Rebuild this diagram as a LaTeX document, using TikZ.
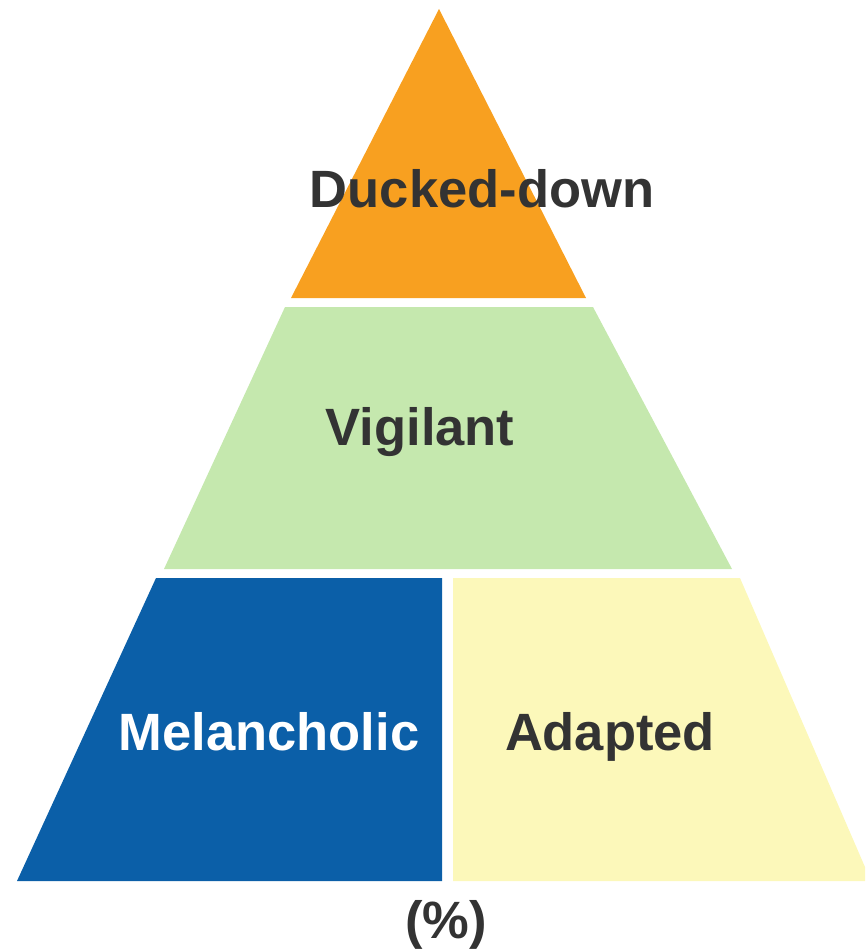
\documentclass[tikz,border=0pt]{standalone}
\usepackage{fontspec}
\setmainfont{Liberation Sans}
\usepackage{xcolor}
\usepackage{tikz}
\usetikzlibrary{positioning}
\definecolor{topcol}{HTML}{F8A020}
\definecolor{midcol}{HTML}{C5E8AE}
\definecolor{melcol}{HTML}{0B5FA8}
\definecolor{adpcol}{HTML}{FCF8BA}
\definecolor{txtcol}{HTML}{333333}
\tikzset{
  tier/.style={draw=none},
  tierlabel/.style={font=\bfseries\fontsize{52.5}{60}\selectfont, text=txtcol, anchor=base, inner sep=0pt}
}

\begin{document}
\begin{tikzpicture}[x=1pt, y=-1pt]
  \useasboundingbox (0,0) rectangle (865,952);
  % pyramid tiers
  \fill[tier, topcol] (439,9) -- (586,298) -- (291,298) -- cycle;
  \fill[tier, midcol] (285,307) -- (593,307) -- (732,569) -- (164,569) -- cycle;
  \fill[tier, melcol] (156,578) -- (442,578) -- (442,881) -- (17,881) -- cycle;
  \fill[tier, adpcol] (453,578) -- (740,578) -- (865,867) -- (865,881) -- (453,881) -- cycle;
  % labels
  \node[tierlabel] (ducked) at (482,207) {Ducked-down};
  \node[tierlabel] (vigilant) at (420,445) {Vigilant};
  \node[tierlabel, text=white] (melancholic) at (269,750) {Melancholic};
  \node[tierlabel] (adapted) at (610,750) {Adapted};
  \node[tierlabel] (percent) at (446,938) {(\%)};
\end{tikzpicture}
\end{document}
